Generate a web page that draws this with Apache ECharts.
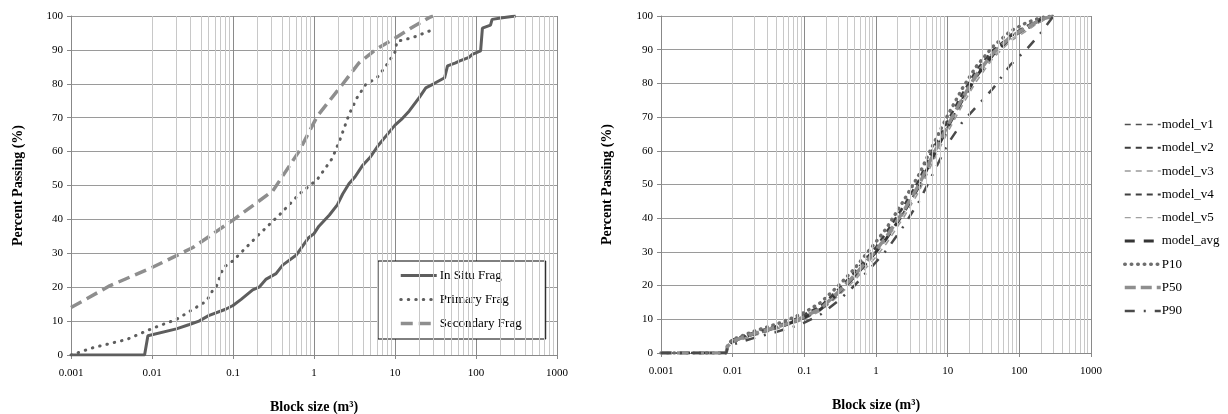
<!DOCTYPE html>
<html>
<head>
<meta charset="utf-8">
<script src="https://cdn.jsdelivr.net/npm/echarts@6/dist/echarts.min.js"></script>
<style>
  html, body { margin: 0; padding: 0; background: #fff; }
  #chart { width: 1228px; height: 414px; }
</style>
</head>
<body>
<div id="chart"></div>
<script>
// left chart: fragmentation curves
const inSituX = [0.001, 0.0081, 0.0089, 0.02, 0.029, 0.038, 0.05, 0.081, 0.1, 0.126, 0.175, 0.21, 0.257, 0.34, 0.41, 0.6, 0.85, 1.0, 1.15, 1.55, 1.94, 2.26, 2.7, 3.2, 4.0, 5.0, 6.2, 8.0, 10, 12, 15, 20, 24, 30, 41, 44.5, 56, 62, 82, 90, 114, 120, 151, 158, 212, 309]
const inSituY = [0, 0, 5.7, 7.7, 9, 10, 11.6, 13.5, 14.6, 16.4, 19.2, 20, 22.4, 24, 26.5, 29.4, 34.5, 35.8, 38, 41.3, 44.3, 47.5, 50.5, 52.5, 56, 58.5, 61.8, 65, 67.8, 69.5, 72, 76, 78.8, 80, 81.8, 85.3, 86.2, 86.7, 87.8, 88.7, 89.7, 96.4, 97.3, 99, 99.5, 100]

const primaryX = [0.001, 0.0019, 0.0049, 0.01, 0.02, 0.047, 0.056, 0.063, 0.076, 0.1, 0.21, 0.38, 0.66, 1.1, 1.68, 2.13, 2.7, 3.4, 4.35, 6.0, 7.7, 10.2, 10.5, 16.4, 29.5]
const primaryY = [0, 2.2, 4.6, 7.8, 10.5, 15.9, 19, 20.5, 25.8, 27.8, 35.6, 41.5, 47.5, 51.8, 58, 64, 70.9, 75.9, 79.8, 81.8, 85.2, 89.7, 92.5, 93.6, 96]

const secondaryX = [0.001, 0.003, 0.01, 0.032, 0.1, 0.31, 0.65, 1.1, 2.24, 3.6, 5.8, 10.2, 17.2, 26.3, 29.5]
const secondaryY = [14, 20.4, 25.8, 31.7, 39.8, 48.4, 60, 70.5, 79.8, 86.2, 90.1, 93.6, 97, 99.5, 100]

// right chart: model runs, shared block sizes
const modelX = [0.001, 0.0081, 0.0085, 0.01, 0.02, 0.04, 0.07, 0.1, 0.17, 0.3, 0.5, 1, 1.4, 2.4, 4, 6, 10, 16, 25, 43, 75, 125, 200, 300]
const modelV1 = [0, 0, 2, 3.8, 6, 7.8, 9.5, 11, 13.5, 18.5, 23.5, 31, 35.5, 43, 51, 59, 68.5, 76.5, 83, 89.5, 94.5, 97, 99.5, 100]
const modelV2 = [0, 0, 2.5, 4, 6.2, 8, 9.8, 11.5, 14, 19, 24, 31.5, 36, 43.5, 51.5, 60, 69, 77, 84, 90, 94, 96, 98.5, 100]
const modelV3 = [0, 0, 1.5, 3, 5.2, 7, 8.8, 10, 12.5, 17, 21.5, 28.5, 32.5, 40, 48, 56, 65.5, 73.5, 80.5, 87.5, 92.5, 95.5, 98.5, 100]
const modelV4 = [0, 0, 2, 3.5, 5.5, 7.3, 9, 10.5, 13, 17.5, 22.5, 30, 34, 41.5, 49.5, 57.5, 67, 75.5, 82.5, 89, 94, 97, 99, 100]
const modelV5 = [0, 0, 2, 3.2, 5.5, 7.2, 9, 10.2, 12.8, 17.8, 22, 29.5, 33.5, 41, 49, 57, 66.5, 74.5, 81.5, 88, 93, 96, 98.5, 100]
const modelAvg = [0, 0, 2, 3.5, 5.7, 7.5, 9.2, 10.5, 13, 18, 22.6, 30, 34, 41.4, 49.5, 57.5, 67, 75, 82, 88.5, 93.5, 96.5, 99, 100]
const p10 = [0, 0, 2.5, 4, 6.5, 8.5, 10.5, 12, 15, 20, 25, 33, 37, 45, 53, 61, 70.5, 78.5, 85, 91, 95.5, 98, 99.5, 100]
const p50 = [0, 0, 2, 3.5, 5.8, 7.6, 9.3, 10.8, 13.2, 18.2, 23, 30.5, 34.5, 42, 50, 58, 67.5, 75.5, 82.5, 89, 93.8, 96.5, 99, 100]
const p90 = [0, 0, 1.5, 2.5, 4.5, 6.2, 7.8, 9, 11.5, 15.5, 20, 27, 30.5, 37.5, 45, 52.5, 62, 68.5, 73, 78.5, 85.5, 90, 95, 100]

const xTickLabels = ['0.001', '0.01', '0.1', '1', '10', '100', '1000']
const yTicks = [0, 10, 20, 30, 40, 50, 60, 70, 80, 90, 100]

// minor log gridlines 2..9 in each decade
const minorGrid = []
for (let k = -3; k <= 2; k++) {
  for (let m = 2; m <= 9; m++) minorGrid.push(+(m * 10 ** k).toPrecision(3))
}

const FONT = '"Liberation Serif", "Times New Roman", serif'
const pair = (xs, ys) => xs.map((x, i) => [x, ys[i]])

const xAxisBase = (gridIndex) => ({
  type: 'log',
  gridIndex,
  logBase: 10,
  min: 0.001,
  max: 1000,
  name: 'Block size (m³)',
  nameLocation: 'middle',
  nameGap: 45,
  nameTextStyle: { fontFamily: FONT, fontSize: 14, fontWeight: 'bold', color: '#000' },
  axisLine: { lineStyle: { color: '#888' } },
  axisTick: { show: true, length: 4, lineStyle: { color: '#888' } },
  axisLabel: {
    fontFamily: FONT, fontSize: 11, color: '#000', margin: 13,
    formatter: (v, i) => xTickLabels[i]
  },
  splitLine: { show: true, lineStyle: { color: '#8a8a8a', width: 1 } }
})

const yAxisBase = (gridIndex, gap) => ({
  type: 'value',
  gridIndex,
  min: 0,
  max: 100,
  interval: 10,
  name: 'Percent Passing (%)',
  nameLocation: 'middle',
  nameGap: gap,
  nameTextStyle: { fontFamily: FONT, fontSize: 14, fontWeight: 'bold', color: '#000' },
  axisLine: { show: true, lineStyle: { color: '#888' } },
  axisTick: { show: true, length: 4, lineStyle: { color: '#888' } },
  axisLabel: {
    fontFamily: FONT, fontSize: 11, color: '#000', margin: 8,
    formatter: (v) => (yTicks.includes(v) ? String(v) : '')
  },
  splitLine: { show: true, lineStyle: { color: '#9a9a9a', width: 1 } }
})

const minorSeries = (idx) => ({
  type: 'line',
  xAxisIndex: idx,
  yAxisIndex: idx,
  data: [],
  silent: true,
  z: 1,
  markLine: {
    silent: true,
    symbol: 'none',
    label: { show: false },
    animation: false,
    lineStyle: { color: '#c8c8c8', type: 'solid', width: 1 },
    data: minorGrid.map(v => ({ xAxis: v }))
  }
})

const lineSeries = (name, idx, data, color, width, type, extra = {}) => ({
  name,
  type: 'line',
  xAxisIndex: idx,
  yAxisIndex: idx,
  data,
  symbol: 'none',
  z: 3,
  animation: false,
  lineStyle: { color, width, type, cap: 'butt', ...extra },
  itemStyle: { color }
})

const chart = echarts.init(document.getElementById('chart'))
chart.setOption({
  backgroundColor: '#fff',
  animation: false,
  grid: [
    { left: 71, right: 671, top: 16, bottom: 59, outerBoundsMode: 'none', containLabel: false },
    { left: 661, right: 137, top: 16, bottom: 61, outerBoundsMode: 'none', containLabel: false }
  ],
  xAxis: [xAxisBase(0), xAxisBase(1)],
  yAxis: [yAxisBase(0, 46), yAxisBase(1, 47)],
  legend: [
    {
      data: ['In Situ Frag', 'Primary Frag', 'Secondary Frag'],
      orient: 'vertical',
      left: 378,
      top: 261,
      padding: [8, 24, 9, 21],
      itemWidth: 36,
      itemHeight: 14,
      itemGap: 11,
      backgroundColor: '#fff',
      borderColor: '#000',
      borderWidth: 1,
      itemStyle: { opacity: 0 },
      lineStyle: { width: 'inherit' },
      textStyle: { fontFamily: FONT, fontSize: 13, color: '#000', padding: [0, 0, 0, -2] }
    },
    {
      data: ['model_v1', 'model_v2', 'model_v3', 'model_v4', 'model_v5', 'model_avg', 'P10', 'P50', 'P90'],
      orient: 'vertical',
      left: 1123,
      top: 118,
      padding: 0,
      itemWidth: 36,
      itemHeight: 14,
      itemGap: 10.3,
      itemStyle: { opacity: 0 },
      lineStyle: { width: 'inherit' },
      textStyle: { fontFamily: FONT, fontSize: 13, color: '#000', padding: [0, 0, 0, -4] }
    }
  ],
  series: [
    minorSeries(0),
    minorSeries(1),
    lineSeries('In Situ Frag', 0, pair(inSituX, inSituY), '#5e5e5e', 3, 'solid'),
    lineSeries('Primary Frag', 0, pair(primaryX, primaryY), '#5e5e5e', 3, [0.5, 7], { cap: 'round' }),
    lineSeries('Secondary Frag', 0, pair(secondaryX, secondaryY), '#8e8e8e', 3.5, [12, 6]),
    lineSeries('model_v1', 1, pair(modelX, modelV1), '#505050', 1.5, [6, 5]),
    lineSeries('model_v2', 1, pair(modelX, modelV2), '#3c3c3c', 2, [6, 5]),
    lineSeries('model_v3', 1, pair(modelX, modelV3), '#9a9a9a', 1.5, [6, 5]),
    lineSeries('model_v4', 1, pair(modelX, modelV4), '#404040', 2, [6, 5]),
    lineSeries('model_v5', 1, pair(modelX, modelV5), '#a0a0a0', 1.2, [6, 5]),
    lineSeries('model_avg', 1, pair(modelX, modelAvg), '#353535', 3, [10, 9]),
    lineSeries('P10', 1, pair(modelX, p10), '#6e6e6e', 3.5, [0.5, 6], { cap: 'round' }),
    lineSeries('P50', 1, pair(modelX, p50), '#8e8e8e', 3.5, [11, 5]),
    lineSeries('P90', 1, pair(modelX, p90), '#4a4a4a', 2.5, [10, 9, 2, 9])
  ]
})
</script>
</body>
</html>
